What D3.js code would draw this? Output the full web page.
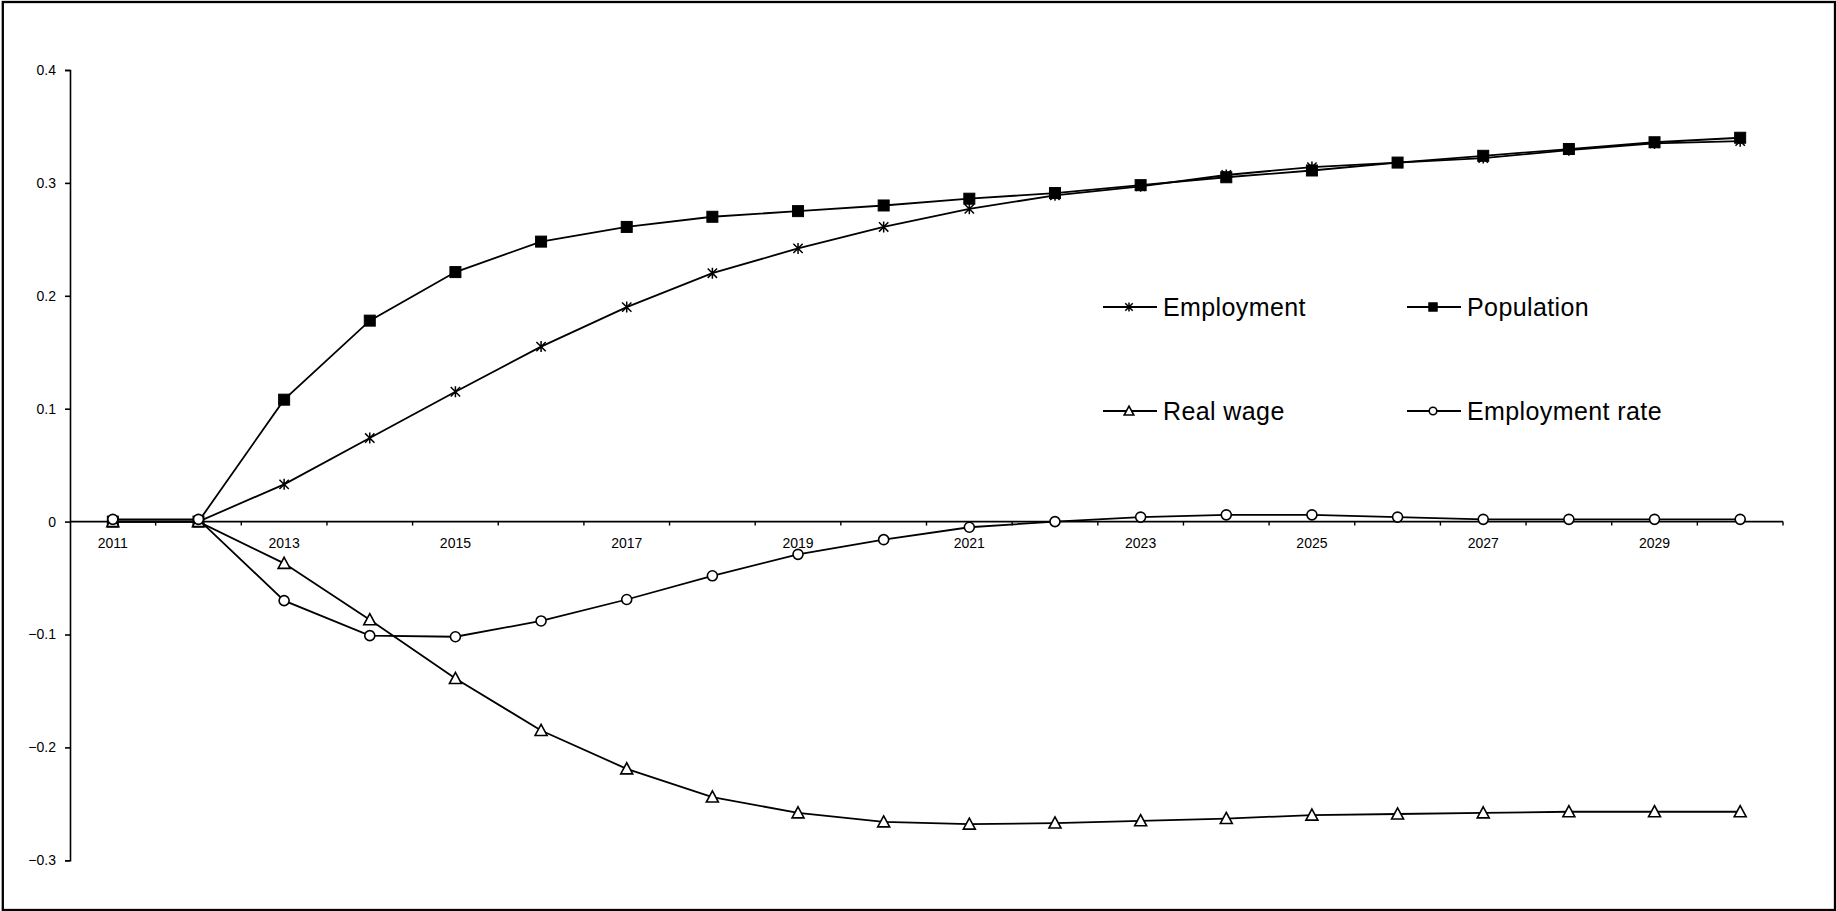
<!DOCTYPE html>
<html>
<head>
<meta charset="utf-8">
<script src="https://cdn.jsdelivr.net/npm/d3@7/dist/d3.min.js"></script>
<style>
  html, body { margin: 0; padding: 0; background: #fff; }
  svg { display: block; }
  text { font-family: "Liberation Sans", Arial, sans-serif; fill: #000; }
</style>
</head>
<body>
<svg id="chart" width="1836" height="911"></svg>
<script>
// ---- Data ----
const years = [2011,2012,2013,2014,2015,2016,2017,2018,2019,2020,2021,2022,2023,2024,2025,2026,2027,2028,2029,2030];
const xTickLabels = [2011,2013,2015,2017,2019,2021,2023,2025,2027,2029];
const yTicks = [-0.3,-0.2,-0.1,0,0.1,0.2,0.3,0.4];

const employment     = [0, 0, 0.033, 0.074, 0.115, 0.155, 0.190, 0.220, 0.242, 0.261, 0.277, 0.289, 0.297, 0.307, 0.314, 0.318, 0.322, 0.329, 0.335, 0.337];
const population     = [0, 0, 0.108, 0.178, 0.221, 0.248, 0.261, 0.270, 0.275, 0.280, 0.286, 0.291, 0.298, 0.305, 0.311, 0.318, 0.324, 0.330, 0.336, 0.340];
const realWage       = [0, 0, -0.037, -0.087, -0.139, -0.185, -0.219, -0.244, -0.258, -0.266, -0.268, -0.267, -0.265, -0.263, -0.260, -0.259, -0.258, -0.257, -0.257, -0.257];
const employmentRate = [0.002, 0.002, -0.070, -0.101, -0.102, -0.088, -0.069, -0.048, -0.029, -0.016, -0.005, 0.000, 0.004, 0.006, 0.006, 0.004, 0.002, 0.002, 0.002, 0.002];

const seriesNames = ["Employment", "Population", "Real wage", "Employment rate"];
const seriesValues = [employment, population, realWage, employmentRate];
const seriesMarkers = ["star", "square", "triangle", "circle"];

// ---- Layout ----
const svg = d3.select("#chart");
const xLeft = 70, xRight = 1783;
const yTop = 70, yBottom = 860.3;

const x = d3.scaleBand().domain(years).range([xLeft, xRight]).padding(0);
const y = d3.scaleLinear().domain([-0.3, 0.4]).range([yBottom, yTop]);
const cx = d => x(d) + x.bandwidth() / 2;

// outer border
svg.append("rect")
  .attr("x", 2.8).attr("y", 2).attr("width", 1832.2).attr("height", 908)
  .attr("fill", "none").attr("stroke", "#000").attr("stroke-width", 2.3);

// Y axis
const yAxis = d3.axisLeft(y).tickValues(yTicks).tickSize(5).tickPadding(9)
  .tickFormat(d => d === 0 ? "0" : d3.format(".1f")(d));
const gy = svg.append("g").attr("transform", `translate(${xLeft},0)`).call(yAxis);
gy.select(".domain").attr("stroke", "#000").attr("stroke-width", 1.6);
gy.selectAll(".tick line").attr("stroke", "#000").attr("stroke-width", 1.6);
gy.selectAll(".tick text").attr("font-size", 14).attr("font-family", "Liberation Sans, Arial, sans-serif").attr("fill", "#000");

// X axis at y=0 with ticks at category boundaries
const gx = svg.append("g").attr("transform", `translate(0,${y(0)})`);
gx.append("line").attr("x1", xLeft).attr("x2", xRight).attr("y1", 0).attr("y2", 0)
  .attr("stroke", "#000").attr("stroke-width", 1.6);
const boundaries = years.map(d => x(d)).concat([xRight]);
gx.selectAll("line.tk").data(boundaries.slice(1)).enter().append("line")
  .attr("class", "tk")
  .attr("x1", d => d).attr("x2", d => d).attr("y1", 0).attr("y2", 4)
  .attr("stroke", "#000").attr("stroke-width", 1.4);
gx.selectAll("text").data(xTickLabels).enter().append("text")
  .attr("x", d => cx(d)).attr("y", 26.5)
  .attr("text-anchor", "middle").attr("font-size", 14)
  .text(d => d);

// Marker drawing
function drawMarker(g, type, s) {
  if (type === "square") {
    g.append("rect").attr("x", -s).attr("y", -s).attr("width", 2*s).attr("height", 2*s)
      .attr("fill", "#000").attr("stroke", "#000").attr("stroke-width", 1);
  } else if (type === "circle") {
    g.append("circle").attr("r", s).attr("fill", "#fff").attr("stroke", "#000").attr("stroke-width", 1.6);
  } else if (type === "triangle") {
    const h = s * 1.85;
    g.append("path")
      .attr("d", `M0,${-h*0.55}L${s},${h*0.45}L${-s},${h*0.45}Z`)
      .attr("fill", "#fff").attr("stroke", "#000").attr("stroke-width", 1.6).attr("stroke-linejoin", "miter");
  } else if (type === "star") {
    const d = s * 0.85;
    g.append("path")
      .attr("d", `M0,${-s}L0,${s}M${-d},${-d}L${d},${d}M${-d},${d}L${d},${-d}`)
      .attr("fill", "none").attr("stroke", "#000").attr("stroke-width", 1.5);
  }
}
const markerSize = { star: 5.5, square: 5.5, triangle: 6, circle: 5 };
const legendMarkerSize = { star: 4.4, square: 4.2, triangle: 4.8, circle: 3.8 };

// Series
const line = d3.line().x(d => cx(d.year)).y(d => y(d.value));
seriesValues.forEach((vals, i) => {
  const pts = years.map((yr, j) => ({ year: yr, value: vals[j] }));
  const g = svg.append("g");
  g.append("path").datum(pts).attr("d", line)
    .attr("fill", "none").attr("stroke", "#000").attr("stroke-width", 1.8);
  pts.forEach(p => {
    const m = g.append("g").attr("transform", `translate(${cx(p.year)},${y(p.value)})`);
    drawMarker(m, seriesMarkers[i], markerSize[seriesMarkers[i]]);
  });
});

// Legend
const legendCols = [1103, 1407];
const legendRows = [307, 411];
seriesNames.forEach((name, i) => {
  const lx = legendCols[i % 2], ly = legendRows[Math.floor(i / 2)];
  const g = svg.append("g").attr("transform", `translate(${lx},${ly})`);
  g.append("line").attr("x1", 0).attr("x2", 54).attr("y1", 0).attr("y2", 0)
    .attr("stroke", "#000").attr("stroke-width", 1.8);
  const m = g.append("g").attr("transform", "translate(26,0)");
  drawMarker(m, seriesMarkers[i], legendMarkerSize[seriesMarkers[i]]);
  g.append("text").attr("x", 60).attr("y", 0).attr("dy", "0.35em")
    .attr("font-size", 25).attr("letter-spacing", "0.4px").text(name);
});
</script>
</body>
</html>
